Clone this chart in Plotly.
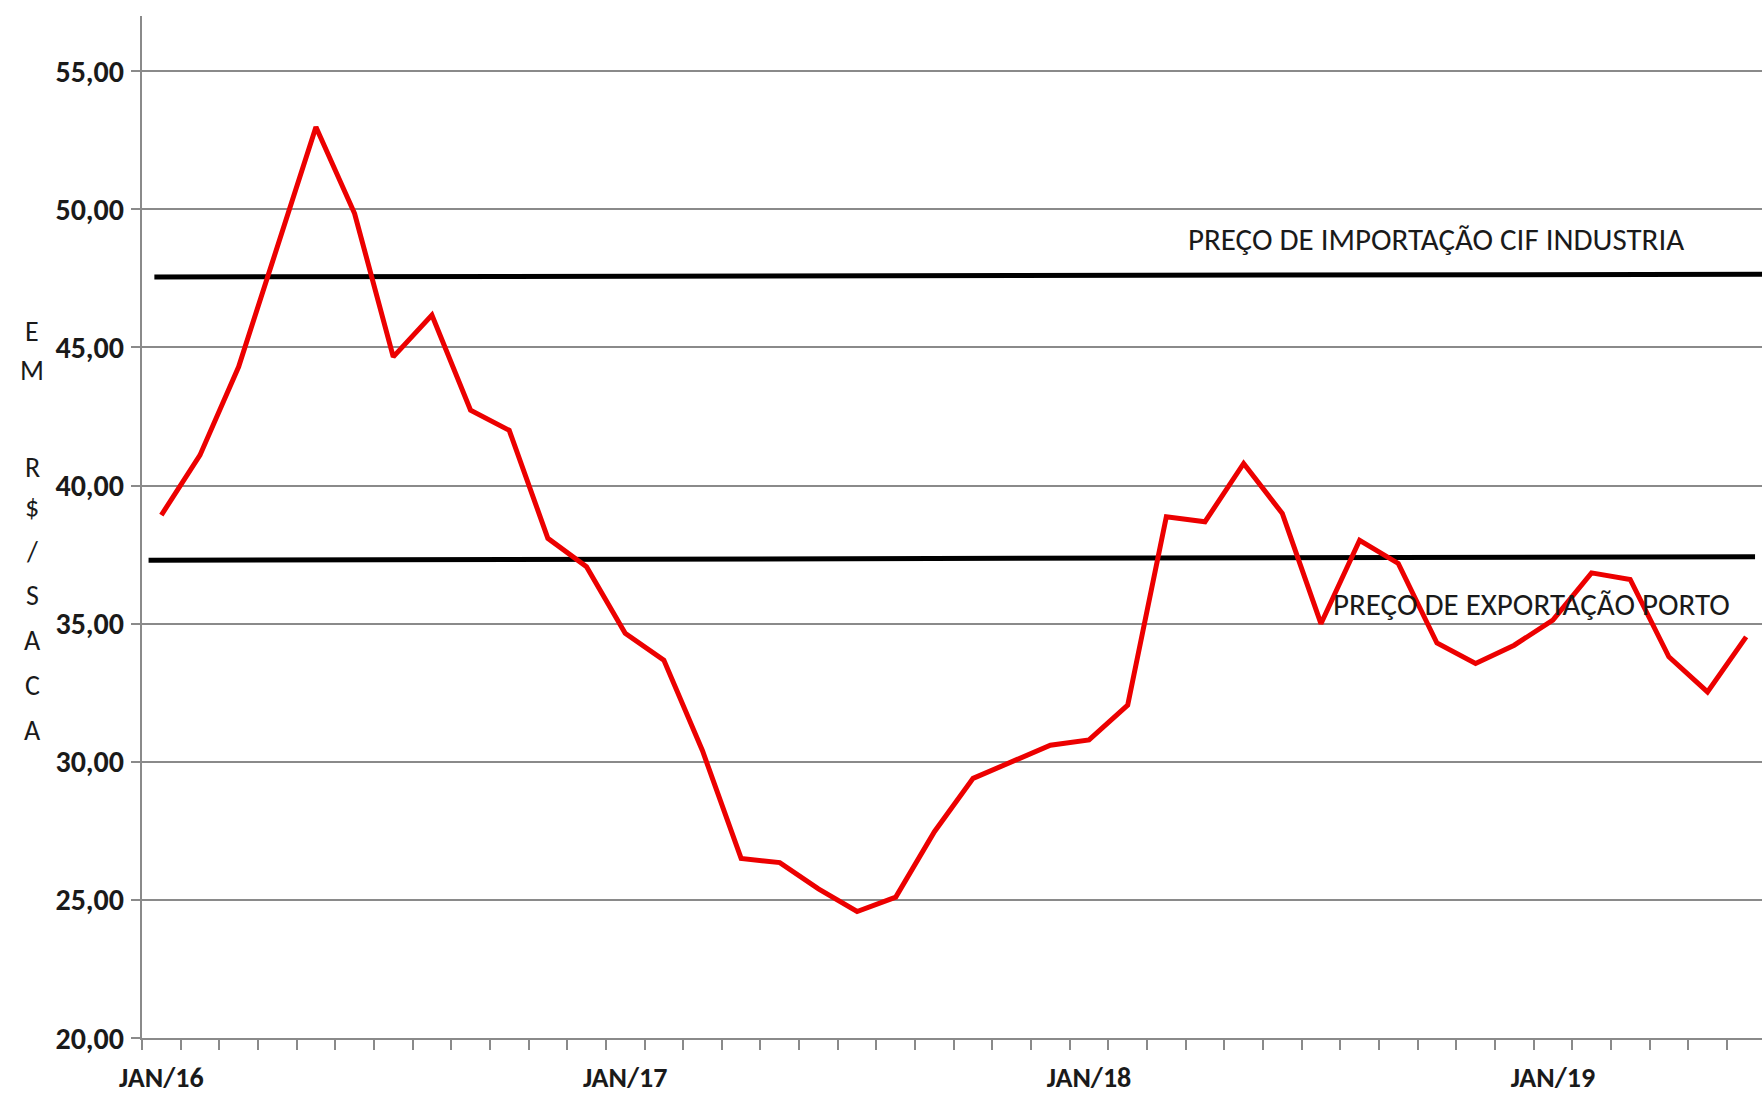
import plotly.graph_objects as go

# preço mensal R$/saca, jan/16 a jun/19
meses = list(range(42))
preco = [38.93, 41.10, 44.30, 48.60, 52.98, 49.85, 44.66, 46.17, 42.73, 42.00,
         38.09, 37.06, 34.65, 33.68, 30.40, 26.50, 26.35, 25.40, 24.58, 25.10,
         27.47, 29.40, 30.00, 30.60, 30.79, 32.05, 38.87, 38.69, 40.80, 38.99,
         35.00, 38.02, 37.18, 34.30, 33.56, 34.22, 35.13, 36.84, 36.60, 33.80,
         32.53, 34.52]

import_x = [-0.18, 41.6]
import_y = [47.55, 47.65]
export_x = [-0.33, 41.23]
export_y = [37.30, 37.42]

jan_pos = [0, 12, 24, 36]
jan_txt = ["JAN/16", "JAN/17", "JAN/18", "JAN/19"]
y_ticks = [20, 25, 30, 35, 40, 45, 50, 55]

W, H = 1762, 1095
ML, MR, MT, MB = 142, 0, 16, 57
cinza = "#8a8a8a"
texto = "#1a1a1a"
fonte = "Carlito, Open Sans, sans-serif"

fig = go.Figure()
fig.add_trace(go.Scatter(x=import_x, y=import_y, mode="lines",
                         line=dict(color="black", width=5), showlegend=False))
fig.add_trace(go.Scatter(x=export_x, y=export_y, mode="lines",
                         line=dict(color="black", width=5), showlegend=False))
fig.add_trace(go.Scatter(x=meses, y=preco, mode="lines",
                         line=dict(color="#ec0000", width=5), showlegend=False))

fig.add_annotation(x=26.52, y=48.92, text="PREÇO DE IMPORTAÇÃO CIF INDUSTRIA",
                   showarrow=False, xanchor="left", yanchor="middle",
                   font=dict(family=fonte, size=31, color=texto))
fig.add_annotation(x=30.25, y=35.7, text="PREÇO DE EXPORTAÇÃO PORTO",
                   showarrow=False, xanchor="left", yanchor="middle",
                   font=dict(family=fonte, size=31, color=texto))

# título do eixo y, letra por letra
pw, ph = W - ML - MR, H - MT - MB
letras = ["E", "M", "R", "$", "/", "S", "A", "C", "A"]
pos_y = [331, 370, 467, 507, 551, 595, 640, 685, 730]
for l, py in zip(letras, pos_y):
    fig.add_annotation(xref="paper", yref="paper", x=(32 - ML) / pw, y=(H - MB - py) / ph,
                       text=l, showarrow=False, xanchor="center", yanchor="middle",
                       font=dict(family=fonte, size=28, color=texto))

fig.update_xaxes(range=[-0.5, 41.41], tickmode="array", tickvals=jan_pos, ticktext=jan_txt,
                 ticks="", showgrid=False, zeroline=False, showline=True,
                 linecolor=cinza, linewidth=2,
                 tickfont=dict(family=fonte, size=28, color=texto, weight="bold"),
                 ticklabelstandoff=13,
                 minor=dict(tick0=-0.5, dtick=1, ticks="outside", ticklen=10,
                            tickcolor=cinza, tickwidth=1.5, showgrid=False))
fig.update_yaxes(range=[20, 57], tickmode="array", tickvals=y_ticks, tickformat=".2f",
                 showgrid=True, gridcolor=cinza, gridwidth=1.5, zeroline=False,
                 showline=True, linecolor=cinza, linewidth=2,
                 ticks="outside", ticklen=9, tickcolor=cinza, tickwidth=1.5,
                 ticklabelstandoff=1,
                 tickfont=dict(family=fonte, size=30, color=texto, weight="bold"))
fig.update_layout(width=W, height=H, template=None, separators=",.",
                  plot_bgcolor="white", paper_bgcolor="white",
                  margin=dict(l=ML, r=MR, t=MT, b=MB, autoexpand=False))
fig.write_html("out.html", config={"displayModeBar": False},
               post_script="document.body.style.margin='0';")
